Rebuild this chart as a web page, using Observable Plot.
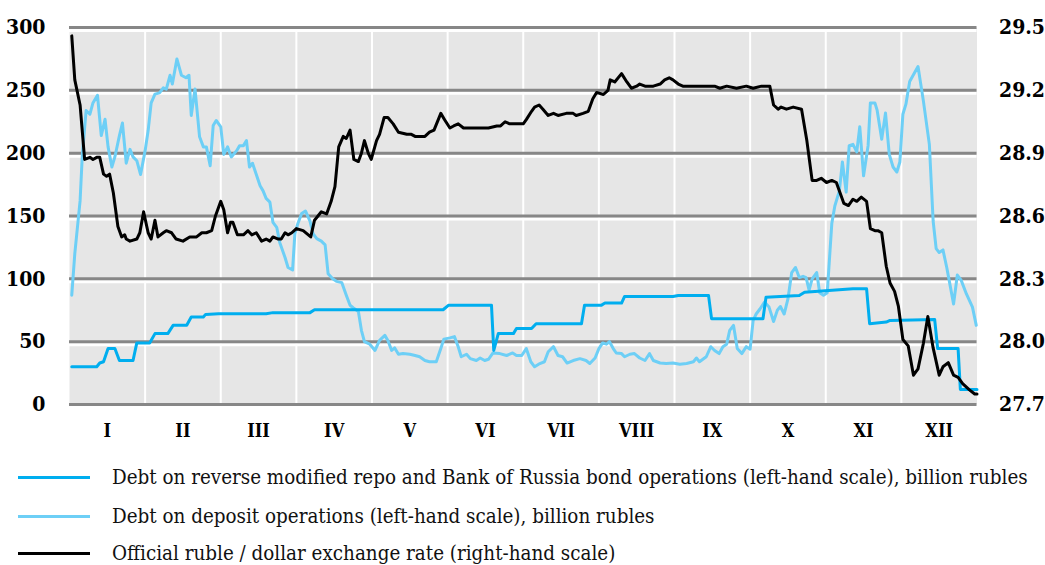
<!DOCTYPE html>
<html>
<head>
<meta charset="utf-8">
<script src="https://cdn.jsdelivr.net/npm/d3@7"></script>
<script src="https://cdn.jsdelivr.net/npm/@observablehq/plot@0.6"></script>
<style>
  html, body { margin: 0; padding: 0; background: #fff; }
  #chart svg { display: block; }
  #chart svg text { font-family: "DejaVu Serif Condensed", "DejaVu Serif", serif; font-stretch: condensed; }
  .legend { font-family: "DejaVu Serif Condensed", "DejaVu Serif", serif; font-stretch: condensed; font-size: 20.4px; color: #111; }
  .legend .item { position: absolute; left: 0; height: 30px; display: flex; align-items: center; }
  .legend .sw { position: absolute; left: 18px; width: 72px; height: 3px; }
  .legend .tx { position: absolute; left: 112px; white-space: nowrap; }
</style>
</head>
<body>
<div id="chart" style="position:relative;width:1045px;height:565px;"></div>
<script>
// Month labels (x axis), position = fraction of year in months (0 = 1 Jan, 12 = 31 Dec)
const months = ["I","II","III","IV","V","VI","VII","VIII","IX","X","XI","XII"];
const leftTicks = [0, 50, 100, 150, 200, 250, 300];
const rateTicks = [27.7, 28.0, 28.3, 28.6, 28.9, 29.2, 29.5];

// Debt on reverse modified repo and Bank of Russia bond operations, billion rubles
const repoT = [0.03,0.36,0.40,0.45,0.51,0.60,0.66,0.84,0.89,1.06,1.13,1.30,1.37,1.55,1.61,1.77,1.80,1.97,2.60,2.69,3.18,3.24,4.94,5.01,5.58,5.61,5.67,5.87,5.91,6.11,6.17,6.77,6.81,7.03,7.08,7.30,7.34,7.98,8.05,8.45,8.49,9.17,9.21,9.65,9.72,10.36,10.54,10.58,10.80,10.85,11.44,11.48,11.75,11.78,12.0];
const repoV = [30,30,33,34,44.5,44.5,35,35,49,49,56.4,56.4,63,63,69.6,69.6,71.7,72.3,72.3,73.1,73.1,75.4,75.4,78.9,78.9,43,56.4,56.4,60.4,60.4,64.3,64.3,78.9,78.9,80.7,80.7,86,86,86.8,86.8,68.3,68.3,85.4,86.8,89.4,92.1,92.1,64.3,65.6,66.9,67.7,44.5,44.5,12,12];

// Debt on deposit operations, billion rubles
const depositT = [0.03,0.07,0.14,0.17,0.22,0.27,0.31,0.37,0.42,0.47,0.51,0.56,0.60,0.66,0.70,0.75,0.80,0.84,0.89,0.94,1.00,1.04,1.08,1.13,1.19,1.24,1.28,1.33,1.36,1.42,1.48,1.54,1.58,1.61,1.66,1.72,1.77,1.81,1.86,1.90,1.94,2.00,2.04,2.09,2.14,2.21,2.25,2.30,2.34,2.38,2.42,2.47,2.52,2.56,2.60,2.65,2.69,2.74,2.78,2.85,2.89,2.95,2.98,3.02,3.07,3.12,3.18,3.22,3.27,3.33,3.38,3.42,3.48,3.53,3.60,3.66,3.71,3.75,3.82,3.86,3.90,3.97,4.04,4.10,4.17,4.21,4.26,4.30,4.35,4.41,4.50,4.57,4.63,4.70,4.76,4.85,4.91,4.95,5.03,5.09,5.14,5.18,5.25,5.30,5.38,5.43,5.49,5.54,5.60,5.69,5.78,5.86,5.91,5.98,6.04,6.10,6.15,6.22,6.28,6.33,6.40,6.46,6.52,6.58,6.66,6.75,6.83,6.88,6.95,7.00,7.05,7.10,7.14,7.19,7.23,7.30,7.34,7.41,7.47,7.54,7.61,7.67,7.72,7.81,7.89,7.98,8.07,8.16,8.25,8.29,8.33,8.42,8.48,8.53,8.59,8.64,8.69,8.73,8.78,8.83,8.89,8.95,9.00,9.04,9.08,9.13,9.19,9.25,9.31,9.36,9.40,9.45,9.50,9.55,9.60,9.65,9.70,9.74,9.78,9.82,9.88,9.92,9.97,10.02,10.08,10.12,10.18,10.22,10.27,10.31,10.36,10.41,10.45,10.50,10.56,10.59,10.65,10.68,10.74,10.79,10.84,10.89,10.94,10.98,11.02,11.06,11.11,11.22,11.29,11.37,11.42,11.46,11.50,11.55,11.60,11.65,11.69,11.74,11.79,11.86,11.94,11.99];
const depositV = [87,120,162,199,234,231,240,246,214,227,205,189,197,214,224,192,203,197,194,183,202,218,240,247,248,252,251,262,255,275,262,260,262,230,251,213,205,205,190,222,226,221,199,205,197,202,206,206,210,189,192,183,174,170,164,161,145,141,129,117,109,107,136,144,152,154,146,136,132,130,127,104,100,98,97,87,79,77,74,59,50,48,43,51,55,51,43,45,40,40.5,40,39,38,35,34,34,44.5,52,53,54,46,38,40,36.5,35,37,35,36,41,40.5,39,41,39,39,44.5,34,30,32.6,34,42,46,39,38,33,35,36.5,35,32.6,37,44.5,49,48,50,44.5,41,40.5,38,40,40.5,37,35,40.5,35,33,32.6,33,32,32.6,34,37,34,38,46,43,40.5,46,48,59,63,44.5,40.5,46,44,67,72,76,81.5,77.5,66,75,78,72,84,105,109,101,102,101,91,100,105,89,87,89,144,158,170,193,169,206,207,201,221,182,206,240,240,234,211,232,199,189,185,193,231,239,257,269,242,207,146,124,121,123,109,93,80,103,99,88,77.5,63];

// Official ruble/dollar exchange rate (right-hand scale)
const rateT = [0.03,0.07,0.14,0.20,0.27,0.31,0.36,0.40,0.45,0.49,0.53,0.58,0.64,0.69,0.73,0.75,0.80,0.89,0.93,0.98,1.04,1.08,1.13,1.17,1.24,1.28,1.35,1.41,1.50,1.59,1.68,1.75,1.81,1.88,1.93,2.00,2.04,2.09,2.13,2.16,2.22,2.30,2.36,2.41,2.47,2.54,2.60,2.65,2.69,2.76,2.80,2.85,2.89,2.94,3.00,3.09,3.19,3.24,3.33,3.40,3.46,3.51,3.56,3.62,3.66,3.71,3.76,3.82,3.86,3.90,3.95,3.99,4.06,4.10,4.16,4.21,4.28,4.35,4.46,4.52,4.57,4.63,4.70,4.76,4.82,4.91,4.96,5.03,5.08,5.14,5.21,5.29,5.36,5.45,5.54,5.65,5.70,5.76,5.82,5.91,6.00,6.04,6.11,6.15,6.21,6.26,6.33,6.40,6.46,6.57,6.66,6.70,6.79,6.86,6.92,6.97,7.06,7.12,7.15,7.21,7.30,7.37,7.43,7.50,7.54,7.61,7.72,7.81,7.87,7.93,7.98,8.05,8.11,8.20,8.29,8.42,8.53,8.60,8.69,8.82,8.95,9.04,9.15,9.26,9.31,9.37,9.41,9.48,9.57,9.68,9.75,9.82,9.88,9.94,10.01,10.08,10.14,10.19,10.24,10.30,10.36,10.41,10.47,10.54,10.59,10.65,10.69,10.74,10.80,10.85,10.91,10.96,11.02,11.09,11.16,11.22,11.29,11.35,11.42,11.50,11.55,11.62,11.69,11.75,11.81,11.90,11.97,12.00];
const rateV = [29.46,29.25,29.13,28.87,28.88,28.87,28.88,28.88,28.80,28.79,28.80,28.71,28.55,28.50,28.51,28.49,28.48,28.49,28.52,28.62,28.52,28.49,28.58,28.50,28.52,28.53,28.52,28.49,28.48,28.50,28.50,28.52,28.52,28.53,28.60,28.67,28.63,28.52,28.57,28.57,28.51,28.51,28.53,28.51,28.52,28.48,28.49,28.48,28.50,28.49,28.49,28.52,28.51,28.52,28.54,28.53,28.50,28.58,28.62,28.61,28.67,28.74,28.93,28.98,28.97,29.01,28.87,28.86,28.90,28.96,28.90,28.87,28.96,28.99,29.07,29.07,29.04,29.00,28.99,28.99,28.98,28.98,28.98,29.00,29.01,29.09,29.06,29.02,29.03,29.04,29.02,29.02,29.02,29.02,29.02,29.03,29.03,29.05,29.04,29.04,29.04,29.06,29.10,29.12,29.13,29.11,29.08,29.09,29.08,29.09,29.09,29.08,29.09,29.10,29.16,29.19,29.18,29.20,29.25,29.24,29.28,29.24,29.21,29.22,29.23,29.22,29.22,29.23,29.25,29.26,29.25,29.23,29.22,29.22,29.22,29.22,29.22,29.21,29.22,29.21,29.22,29.21,29.22,29.22,29.13,29.11,29.12,29.11,29.12,29.11,28.96,28.77,28.77,28.78,28.76,28.77,28.76,28.71,28.66,28.65,28.68,28.67,28.69,28.67,28.54,28.53,28.53,28.52,28.36,28.28,28.24,28.17,28.01,27.98,27.84,27.87,27.99,28.12,27.97,27.84,27.88,27.90,27.84,27.83,27.80,27.77,27.75,27.75];

const repo = repoT.map((t, i) => ({t, v: repoV[i]}));
const deposit = depositT.map((t, i) => ({t, v: depositV[i]}));
const rate = rateT.map((t, i) => ({t, r: rateV[i]}));

// right-hand scale mapped onto the left-hand one: 27.7 -> 0, 29.5 -> 300
const rateToLeft = r => (r - 27.7) / (29.5 - 27.7) * 300;

const cRepo = "#00aeef", cDep = "#6dcff6", cRate = "#000000";

const plot = Plot.plot({
  width: 1045,
  height: 450,
  marginLeft: 69,
  marginRight: 68.5,
  marginTop: 27,
  marginBottom: 46,
  style: {background: "white", overflow: "visible"},
  x: {domain: [0, 12]},
  y: {domain: [0, 300]},
  marks: [
    Plot.frame({fill: "#e6e6e6", stroke: null}),
    Plot.ruleX(d3.range(1, 12), {stroke: "white", strokeWidth: 2}),
    Plot.ruleY(leftTicks.filter(d => d > 0), {stroke: "white", strokeWidth: 3, dy: 3}),
    Plot.ruleY(leftTicks, {stroke: "#878787", strokeWidth: 3}),
    Plot.line(deposit, {x: "t", y: "v", stroke: cDep, strokeWidth: 3, strokeLinejoin: "round"}),
    Plot.line(repo, {x: "t", y: "v", stroke: cRepo, strokeWidth: 3, strokeLinejoin: "round"}),
    Plot.line(rate, {x: "t", y: d => rateToLeft(d.r), stroke: cRate, strokeWidth: 3, strokeLinejoin: "round"}),
    Plot.axisY({anchor: "left", ticks: leftTicks, tickSize: 0, tickPadding: 24, fontSize: 21, fontWeight: "bold", label: null}),
    Plot.axisY({anchor: "right", ticks: leftTicks, tickSize: 0, tickPadding: 22, fontSize: 21, fontWeight: "bold", label: null,
      tickFormat: (d, i) => rateTicks[i].toFixed(1)}),
    Plot.axisX({ticks: months.map((m, i) => i + 0.5), tickSize: 0, tickPadding: 20, fontSize: 18, fontWeight: "bold", label: null,
      tickFormat: (d, i) => months[i]})
  ]
});
const chart = document.getElementById("chart");
chart.appendChild(plot);

// legend below the chart
const legendItems = [
  {label: "Debt on reverse modified repo and Bank of Russia bond operations (left-hand scale), billion rubles", color: cRepo, y: 477},
  {label: "Debt on deposit operations (left-hand scale), billion rubles", color: cDep, y: 516},
  {label: "Official ruble / dollar exchange rate (right-hand scale)", color: cRate, y: 553}
];
const legend = document.createElement("div");
legend.className = "legend";
for (const it of legendItems) {
  const row = document.createElement("div");
  row.className = "item";
  row.style.top = (it.y - 15) + "px";
  row.style.width = "1045px";
  row.innerHTML = `<div class="sw" style="background:${it.color}"></div><div class="tx">${it.label}</div>`;
  legend.appendChild(row);
}
chart.appendChild(legend);
</script>
</body>
</html>
